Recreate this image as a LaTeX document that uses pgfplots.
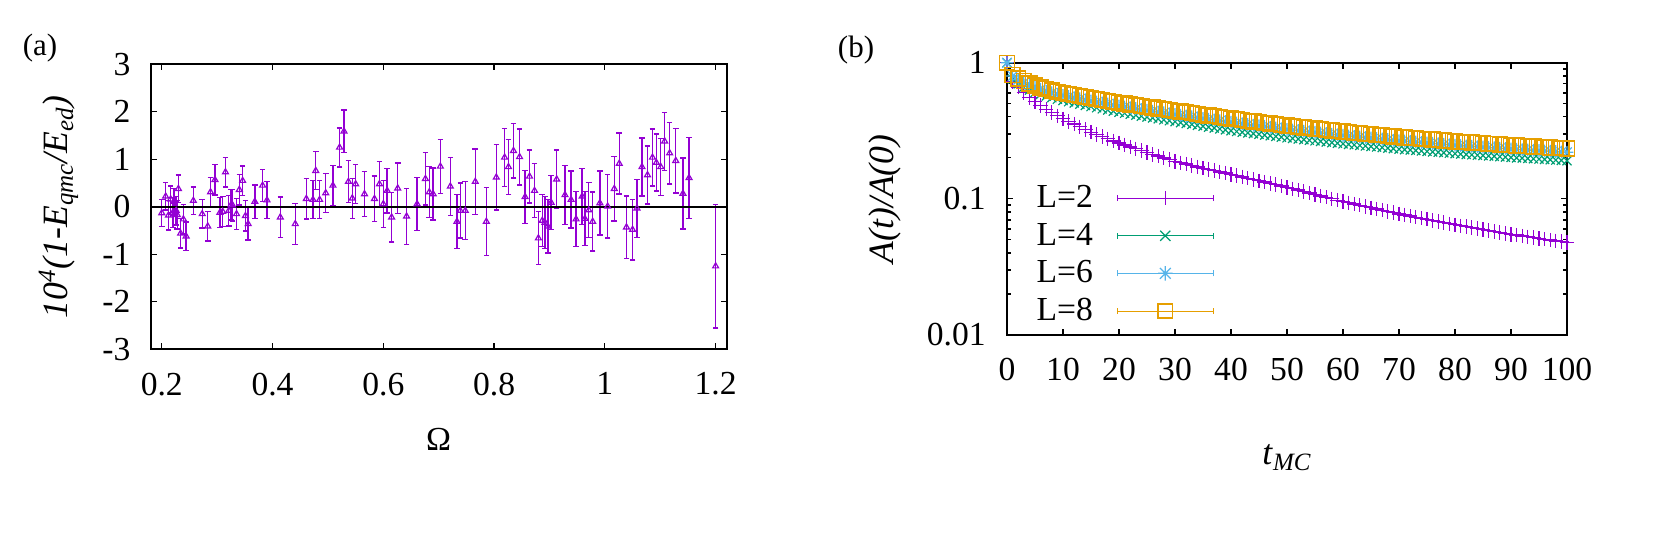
\documentclass[border=0pt]{standalone}
\usepackage{fontspec}
\setmainfont{Liberation Serif}
\usepackage{pgfplots}
\usepackage{pgfplotstable}
\pgfplotsset{compat=1.18}
\usetikzlibrary{plotmarks}

\definecolor{gpviolet}{HTML}{9400D3}
\definecolor{gpgreen}{HTML}{009E73}
\definecolor{gpblue}{HTML}{56B4E9}
\definecolor{gporange}{HTML}{E69F00}

% gnuplot point type 3: + and x together
\pgfdeclareplotmark{gpstar}{%
  \pgfpathmoveto{\pgfqpoint{-\pgfplotmarksize}{0pt}}\pgfpathlineto{\pgfqpoint{\pgfplotmarksize}{0pt}}%
  \pgfpathmoveto{\pgfqpoint{0pt}{-\pgfplotmarksize}}\pgfpathlineto{\pgfqpoint{0pt}{\pgfplotmarksize}}%
  \pgfpathmoveto{\pgfqpoint{-.75\pgfplotmarksize}{-.75\pgfplotmarksize}}\pgfpathlineto{\pgfqpoint{.75\pgfplotmarksize}{.75\pgfplotmarksize}}%
  \pgfpathmoveto{\pgfqpoint{-.75\pgfplotmarksize}{.75\pgfplotmarksize}}\pgfpathlineto{\pgfqpoint{.75\pgfplotmarksize}{-.75\pgfplotmarksize}}%
  \pgfusepathqstroke}

\newcommand{\fs}{\fontsize{16.8}{20}\selectfont}
\newcommand{\fl}{\fontsize{17.8}{21}\selectfont}

\pgfplotsset{gp/.style={scale only axis, clip=false,
  axis line style={line width=1pt},
  tick style={black, line width=0.6pt},
  major tick length=3pt, minor tick length=1.8pt, tick align=inside,
  /pgf/number format/assume math mode=true,
  tick label style={font=\fs}, label style={font=\fl},
  xticklabel style={anchor=north, inner sep=0pt, yshift=-11.5pt},
}}

% Omega, 10^4(1-E_qmc/E_ed), error
\pgfplotstableread{
x y e
0.200 -0.13 0.28
0.207 0.22 0.29
0.212 -0.18 0.31
0.216 0.16 0.28
0.220 -0.12 0.31
0.222 0.11 0.28
0.226 -0.08 0.30
0.228 -0.17 0.30
0.230 0.38 0.29
0.234 -0.56 0.31
0.239 -0.26 0.31
0.244 -0.62 0.30
0.257 0.13 0.29
0.273 -0.15 0.30
0.283 -0.41 0.31
0.288 0.31 0.31
0.296 0.57 0.32
0.305 -0.12 0.32
0.310 -0.10 0.32
0.315 0.73 0.31
0.321 -0.08 0.32
0.325 0.04 0.32
0.328 0.03 0.33
0.335 -0.15 0.33
0.340 0.36 0.32
0.346 0.55 0.31
0.351 -0.19 0.32
0.356 -0.36 0.34
0.368 0.11 0.35
0.382 0.45 0.34
0.390 0.14 0.39
0.414 -0.22 0.43
0.441 -0.36 0.43
0.461 0.17 0.43
0.473 0.15 0.40
0.478 0.76 0.40
0.485 0.15 0.40
0.496 0.29 0.41
0.509 0.45 0.42
0.521 1.25 0.41
0.529 1.59 0.45
0.537 0.53 0.44
0.544 0.18 0.42
0.550 0.48 0.41
0.566 0.27 0.47
0.584 0.17 0.48
0.593 0.48 0.48
0.600 0.06 0.50
0.607 0.34 0.47
0.615 -0.22 0.52
0.626 0.39 0.53
0.642 -0.20 0.59
0.661 0.06 0.56
0.676 0.59 0.55
0.683 0.31 0.54
0.690 0.27 0.55
0.703 0.85 0.57
0.721 0.43 0.61
0.733 -0.31 0.57
0.739 -0.08 0.58
0.748 -0.08 0.61
0.766 0.53 0.69
0.786 -0.31 0.72
0.804 0.62 0.69
0.819 1.04 0.61
0.826 0.84 0.58
0.835 1.18 0.57
0.846 1.05 0.59
0.856 0.21 0.56
0.864 0.64 0.56
0.873 0.34 0.57
0.880 -0.66 0.56
0.887 -0.29 0.55
0.892 -0.33 0.55
0.897 -0.41 0.56
0.903 0.09 0.57
0.913 0.58 0.62
0.928 0.25 0.62
0.939 0.15 0.60
0.948 -0.26 0.58
0.959 0.22 0.59
0.964 -0.25 0.57
0.971 -0.07 0.58
0.978 -0.31 0.62
0.991 0.08 0.67
1.005 0.01 0.67
1.017 0.38 0.68
1.026 0.91 0.64
1.039 -0.43 0.66
1.050 -0.48 0.64
1.058 -0.03 0.61
1.067 0.84 0.61
1.077 0.67 0.61
1.086 1.04 0.60
1.093 0.93 0.60
1.101 0.84 0.60
1.108 1.38 0.61
1.117 1.13 0.65
1.128 0.97 0.68
1.141 0.28 0.75
1.152 0.61 0.85
1.200 -1.25 1.30
}\omegadata

% t_MC, A(t)/A(0) for L=2,4,6,8
\pgfplotstableread{
t L2 L4 L6 L8
0 1.0000 1.0000 1.0000 1.0000
1 0.7244 0.7583 0.7982 0.8128
2 0.6607 0.6999 0.7498 0.7674
3 0.6026 0.6610 0.7137 0.7328
4 0.5559 0.6300 0.6827 0.7031
5 0.5188 0.6052 0.6575 0.6792
6 0.4842 0.5860 0.6368 0.6592
7 0.4550 0.5687 0.6181 0.6412
8 0.4295 0.5533 0.6014 0.6252
9 0.4074 0.5394 0.5871 0.6109
10 0.3873 0.5272 0.5739 0.5984
11 0.3702 0.5165 0.5636 0.5883
12 0.3539 0.5061 0.5530 0.5784
13 0.3383 0.4958 0.5430 0.5686
14 0.3234 0.4858 0.5333 0.5590
15 0.3090 0.4759 0.5237 0.5495
16 0.2978 0.4669 0.5145 0.5410
17 0.2870 0.4580 0.5060 0.5326
18 0.2766 0.4493 0.4976 0.5243
19 0.2666 0.4407 0.4887 0.5161
20 0.2570 0.4324 0.4807 0.5081
21 0.2489 0.4254 0.4735 0.5011
22 0.2410 0.4187 0.4666 0.4943
23 0.2333 0.4119 0.4602 0.4875
24 0.2259 0.4053 0.4534 0.4808
25 0.2188 0.3993 0.4467 0.4742
26 0.2123 0.3930 0.4403 0.4679
27 0.2061 0.3869 0.4340 0.4617
28 0.2000 0.3809 0.4283 0.4556
29 0.1941 0.3749 0.4221 0.4495
30 0.1884 0.3691 0.4161 0.4436
31 0.1841 0.3634 0.4107 0.4378
32 0.1799 0.3578 0.4053 0.4321
33 0.1758 0.3523 0.4001 0.4265
34 0.1718 0.3468 0.3948 0.4209
35 0.1679 0.3419 0.3896 0.4154
36 0.1645 0.3366 0.3846 0.4100
37 0.1611 0.3314 0.3796 0.4047
38 0.1578 0.3263 0.3746 0.3994
39 0.1545 0.3213 0.3698 0.3942
40 0.1514 0.3163 0.3649 0.3890
41 0.1481 0.3125 0.3606 0.3844
42 0.1449 0.3088 0.3563 0.3798
43 0.1418 0.3051 0.3520 0.3753
44 0.1387 0.3015 0.3478 0.3708
45 0.1357 0.2979 0.3437 0.3664
46 0.1328 0.2943 0.3396 0.3620
47 0.1299 0.2908 0.3355 0.3577
48 0.1271 0.2874 0.3316 0.3535
49 0.1243 0.2840 0.3276 0.3493
50 0.1216 0.2806 0.3237 0.3451
51 0.1187 0.2777 0.3204 0.3416
52 0.1159 0.2750 0.3172 0.3382
53 0.1131 0.2722 0.3140 0.3348
54 0.1104 0.2694 0.3109 0.3314
55 0.1078 0.2667 0.3078 0.3281
56 0.1052 0.2641 0.3047 0.3248
57 0.1027 0.2614 0.3016 0.3215
58 0.1002 0.2588 0.2986 0.3183
59 0.0978 0.2562 0.2956 0.3151
60 0.0955 0.2536 0.2926 0.3119
61 0.0935 0.2513 0.2899 0.3091
62 0.0916 0.2491 0.2874 0.3064
63 0.0897 0.2468 0.2848 0.3036
64 0.0879 0.2446 0.2822 0.3009
65 0.0861 0.2424 0.2797 0.2982
66 0.0843 0.2403 0.2773 0.2956
67 0.0826 0.2381 0.2747 0.2929
68 0.0809 0.2360 0.2723 0.2903
69 0.0792 0.2339 0.2699 0.2877
70 0.0776 0.2318 0.2674 0.2851
71 0.0762 0.2300 0.2654 0.2829
72 0.0748 0.2283 0.2634 0.2808
73 0.0734 0.2266 0.2614 0.2787
74 0.0721 0.2249 0.2595 0.2766
75 0.0708 0.2232 0.2575 0.2745
76 0.0695 0.2215 0.2555 0.2724
77 0.0682 0.2198 0.2535 0.2703
78 0.0670 0.2181 0.2517 0.2683
79 0.0657 0.2165 0.2498 0.2663
80 0.0645 0.2148 0.2478 0.2642
81 0.0635 0.2134 0.2462 0.2625
82 0.0625 0.2120 0.2446 0.2608
83 0.0615 0.2107 0.2431 0.2592
84 0.0605 0.2093 0.2415 0.2575
85 0.0595 0.2080 0.2399 0.2558
86 0.0586 0.2067 0.2384 0.2542
87 0.0576 0.2054 0.2369 0.2526
88 0.0567 0.2040 0.2353 0.2509
89 0.0558 0.2027 0.2338 0.2493
90 0.0549 0.2014 0.2323 0.2477
91 0.0542 0.2002 0.2310 0.2463
92 0.0534 0.1992 0.2298 0.2450
93 0.0527 0.1980 0.2285 0.2436
94 0.0519 0.1970 0.2273 0.2423
95 0.0512 0.1959 0.2261 0.2410
96 0.0505 0.1948 0.2247 0.2396
97 0.0498 0.1937 0.2235 0.2383
98 0.0491 0.1927 0.2223 0.2370
99 0.0485 0.1916 0.2211 0.2357
100 0.0478 0.1906 0.2199 0.2344
}\mcdata

\begin{document}
\begin{tikzpicture}[font=\fs]
\useasboundingbox (0,0) rectangle (829.5pt,-274pt);

\node[font=\fontsize{15.5}{18}\selectfont] at (20pt,-24pt) {(a)};
\node[font=\fontsize{15.5}{18}\selectfont] at (428pt,-25pt) {(b)};

% (a)
\begin{axis}[gp, at={(75.35pt,-174.65pt)}, anchor=south west,
  width=288pt, height=142.5pt,
  xmin=0.18, xmax=1.22, ymin=-3, ymax=3,
  xtick={0.2,0.4,0.6,0.8,1,1.2}, ytick={-3,-2,-1,0,1,2,3},
  yticklabel style={anchor=east, inner sep=0pt, xshift=-10pt},
  xlabel={Ω}, xlabel style={font=\fs, at={(axis description cs:0.5,-0.316)}, anchor=center},
  ylabel={\textit{10\textsuperscript{4}(1-E\textsubscript{qmc}/E\textsubscript{ed})}},
  ylabel style={at={(axis description cs:-0.16,0.5)}, anchor=center},
]
\addplot[gpviolet, only marks, mark=triangle, mark size=1.7pt,
  mark options={line width=0.6pt},
  error bars/.cd, y dir=both, y explicit,
  error bar style={line width=0.7pt},
  error mark options={rotate=90, mark size=1.4pt, line width=0.7pt}]
  table[x=x, y=y, y error=e] {\omegadata};
\addplot[black, line width=1.2pt, forget plot] coordinates {(0.18,0) (1.22,0)};
\end{axis}

% (b)
\begin{axis}[gp, at={(503.5pt,-167.5pt)}, anchor=south west,
  width=280pt, height=136.15pt,
  xmin=0, xmax=100, ymode=log, ymin=0.01, ymax=1,
  xtick={0,10,20,30,40,50,60,70,80,90,100},
  ytick={0.01,0.1,1}, yticklabels={0.01,0.1,1},
  yticklabel style={anchor=east, inner sep=0pt, xshift=-10.5pt},
  xlabel={\textit{t}\textsubscript{\textit{MC}}},
  xlabel style={at={(axis description cs:0.5,-0.45)}, anchor=center},
  ylabel={\textit{A(t)/A(0)}},
  ylabel style={at={(axis description cs:-0.218,0.5)}, anchor=center},
  legend plot pos=right, legend cell align=right,
  legend style={at={(axis description cs:0.37,0.565)}, anchor=north east,
    draw=none, fill=none, font=\fs, inner sep=0pt, row sep=2.2pt,
    nodes={inner sep=2pt}, column sep=10pt},
  legend image code/.code={
    \draw[#1, mark=none, line width=0.5pt] (0pt,0pt) -- (48pt,0pt);
    \draw[#1, mark=none, line width=0.5pt] (0pt,-1.5pt) -- (0pt,1.5pt) (48pt,-1.5pt) -- (48pt,1.5pt);
    \draw[#1, mark size=3.6pt] plot coordinates {(24pt,0pt)};
  },
]
\addplot[gpviolet, only marks, mark=+, mark size=3.6pt, line width=0.65pt] table[x=t, y=L2] {\mcdata};
\addplot[gpgreen, only marks, mark=x, mark size=3.2pt, line width=0.6pt] table[x=t, y=L4] {\mcdata};
\addplot[gpblue, only marks, mark=gpstar, mark size=3.2pt, line width=0.6pt] table[x=t, y=L6] {\mcdata};
\addplot[gporange, only marks, mark=square, mark size=3.7pt, line width=0.75pt] table[x=t, y=L8] {\mcdata};
\legend{L=2,L=4,L=6,L=8}
\end{axis}
\end{tikzpicture}
\end{document}
